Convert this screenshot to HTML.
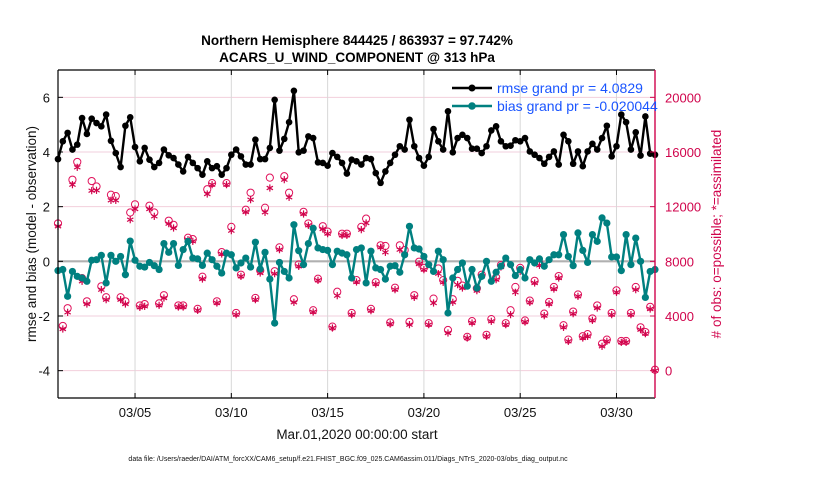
<!DOCTYPE html>
<html><head><meta charset="utf-8"><style>
body{margin:0;background:#fff;}
svg text{font-family:"Liberation Sans",sans-serif;}
</style></head><body>
<svg id="c" width="830" height="470" viewBox="0 0 830 470"></svg>
<script>
const rmse=[3.74,4.39,4.70,4.09,4.27,5.24,4.66,5.22,5.06,4.94,5.37,4.41,3.96,3.45,4.96,5.27,4.18,3.66,4.15,3.72,3.45,3.60,4.09,3.88,3.78,3.54,3.29,3.82,3.60,3.41,3.17,3.66,
3.41,3.48,3.17,3.41,3.90,4.09,3.84,3.54,3.54,4.45,3.74,3.74,4.15,5.91,4.05,4.48,5.09,6.24,3.99,4.05,4.57,4.51,3.62,3.60,3.50,3.96,3.82,3.60,3.21,3.72,3.66,
3.54,3.78,3.74,3.23,2.87,3.29,3.60,3.90,4.21,4.09,5.18,4.21,3.78,3.50,3.82,4.84,4.39,4.09,5.49,3.99,4.51,4.63,4.51,4.12,4.12,3.96,4.21,4.79,4.94,4.39,4.21,
4.23,4.43,4.39,4.51,4.02,3.90,3.78,3.57,3.82,4.02,3.54,4.63,4.39,3.57,4.02,3.48,4.02,4.30,4.09,4.51,4.96,3.84,4.21,5.37,5.09,4.09,4.72,3.87,5.30,3.94,3.90];
const bias=[-0.34,-0.30,-1.28,-0.37,-0.55,-0.61,-0.73,0.04,0.06,0.22,-0.79,0.22,0,0.18,-0.49,0.74,0.04,-0.18,-0.21,-0.04,-0.16,-0.30,0.65,0.33,0.65,-0.15,0.43,0.73,0.12,0.09,-0.15,0.30,
0.06,-0.18,-0.43,0.30,0.24,-0.24,-0.06,0.12,-0.21,0.70,-0.28,0.33,-0.65,-2.26,-0.04,-0.37,-0.61,1.34,0.39,-0.12,0.65,1.21,0.49,0.43,0.40,-0.12,0.37,0.30,0.24,-0.61,0.43,
0.49,-0.79,0.37,-0.24,-0.30,-0.65,-0.18,-0.16,-0.40,0.24,1.28,0.49,0.45,0.18,-0.12,-0.37,0.37,0.06,-1.89,-0.61,-0.30,-0.06,-0.91,-0.30,-0.98,-0.55,0,-0.73,-0.40,-0.18,0.12,
-0.12,-0.52,-0.30,-0.61,0.06,-0.06,0.09,-0.18,0.06,0.24,0.24,0.98,0.18,-0.16,1.04,0.40,-0.04,0.98,0.73,1.59,1.40,0.16,0.16,-0.34,0.98,-0.12,0.85,0,-1.32,-0.37,-0.30];
const assimilated=[10561,3049,4268,13610,14878,6537,4878,13171,13195,5927,5195,12463,12463,5195,4878,11049,11829,4634,4707,11829,11293,4780,5317,10756,10439,4659,4659,9585,9463,4415,6707,12927,
13610,4951,8537,13610,10244,4098,6902,11610,12512,5195,7146,11585,13366,7098,8854,13976,12683,5000,7634,11463,10634,4293,6610,10366,10024,3122,5488,9902,9902,4098,6488,
10317,10805,4390,6341,9024,8659,3415,5927,8854,8488,3366,5366,7805,7390,3366,4951,7098,6463,2756,5000,6293,6049,2390,3488,5854,6902,2512,3610,6659,7585,3366,
4098,5732,7268,3561,5000,6415,7707,4024,4878,5976,6780,3171,2146,4171,5439,2390,2512,3683,4585,1780,2146,4098,5732,2073,2073,4098,5927,3000,2707,4512,0];
const possible=[10700,3200,4500,13900,15200,6700,5000,13800,13400,6100,5300,12800,12700,5300,5000,11500,12100,4700,4800,12000,11500,4850,5450,10900,10600,4700,4700,9650,9550,4450,6800,13200,
13650,5000,8600,13650,10450,4150,6950,11700,12950,5250,7250,11850,14050,7200,8950,14150,12950,5150,7700,11550,10700,4350,6650,10500,10100,3150,5700,9950,9950,4150,6550,
10450,11050,4450,6400,9100,9050,3450,6000,9100,8750,3500,5450,7900,7450,3400,5200,7400,6550,2900,5150,6500,6150,2400,3550,5950,6950,2550,3700,6750,7650,3400,
4350,6050,7450,3600,5050,6500,7800,4100,4950,6050,6850,3250,2200,4250,5500,2450,2600,3750,4700,1900,2200,4150,5800,2100,2100,4150,6050,3100,2750,4600,0];
const leftTicks=[6,4,2,0,-2,-4];
const rightTicks=[20000,16000,12000,8000,4000,0];
const dateTicks=[5,10,15,20,25,30];
const dateLabels=["03/05","03/10","03/15","03/20","03/25","03/30"];

const L=58,R=655,T=70,B=398;
const X=d=>L+(d-1)/31*(R-L);
const Y=v=>T+(7-v)/12*(B-T);
const YR=c=>T+(22000-c)/24000*(B-T);
const dayOf=i=>1+i*0.25;
const svg=document.getElementById('c');
const NS='http://www.w3.org/2000/svg';
function mk(tag,attrs,parent){const e=document.createElementNS(NS,tag);for(const k in attrs)e.setAttribute(k,attrs[k]);(parent||svg).appendChild(e);return e;}
function txt(s,attrs,parent){const e=mk('text',attrs,parent);e.textContent=s;return e;}

// grid
rightTicks.forEach(t=>{const g=mk('line',{x1:L,x2:R,y1:YR(t),y2:YR(t),stroke:'#f2cfdc','stroke-width':1});

});
dateTicks.forEach(d=>{const g=mk('line',{x1:X(d),x2:X(d),y1:T,y2:B,stroke:'#d8d8d8','stroke-width':1});

});
const zl=mk('line',{x1:L,x2:R,y1:Y(0),y2:Y(0),stroke:'#b0b0b0','stroke-width':2.2});



// obs markers
const obsG=mk('g',{});


possible.forEach((c,i)=>{const m=mk('circle',{cx:X(dayOf(i)),cy:YR(c)-1,r:3.6,fill:'none',stroke:'#e0105a','stroke-width':1},obsG);

});
assimilated.forEach((c,i)=>{const x=X(dayOf(i)),y=YR(c);const g=mk('g',{stroke:'#d0044c','stroke-width':1.2},obsG);


const r=3.6;[[0,1],[0.87,0.5],[0.87,-0.5]].forEach(([a,b])=>mk('line',{x1:x-a*r,y1:y-b*r,x2:x+a*r,y2:y+b*r},g));});

function series(vals,color,name,r){
  const g=mk('g',{});
  
  
  mk('polyline',{points:vals.map((v,i)=>X(dayOf(i))+','+Y(v)).join(' '),fill:'none',stroke:color,'stroke-width':2.4,'stroke-linejoin':'round'},g);
  vals.forEach((v,i)=>{const p=mk('circle',{cx:X(dayOf(i)),cy:Y(v),r:r,fill:color},g);
  
  });
}
series(bias,'#008080','bias-series',3.6);
series(rmse,'#000000','rmse-series',3.3);

// axes
const ax=mk('g',{});


mk('line',{x1:L,x2:R,y1:T,y2:T,stroke:'#000','stroke-width':1.2},ax);
mk('line',{x1:L,x2:R,y1:B,y2:B,stroke:'#000','stroke-width':1.2},ax);
mk('line',{x1:L,x2:L,y1:T,y2:B,stroke:'#000','stroke-width':1.2},ax);
mk('line',{x1:R,x2:R,y1:T,y2:B,stroke:'#d0044c','stroke-width':1.4},ax);
leftTicks.forEach(t=>{mk('line',{x1:L,x2:L+5,y1:Y(t),y2:Y(t),stroke:'#000'},ax);
const e=txt(String(t).replace('-','−').replace('−','-'),{x:L-8,y:Y(t)+5,'text-anchor':'end','font-size':13,fill:'#111'},ax);

});
rightTicks.forEach(t=>{mk('line',{x1:R-5,x2:R,y1:YR(t),y2:YR(t),stroke:'#d0044c'},ax);
const e=txt(String(t),{x:R+10,y:YR(t)+5,'font-size':13,fill:'#d0044c'},ax);

});
dateTicks.forEach((d,k)=>{mk('line',{x1:X(d),x2:X(d),y1:T,y2:T+5,stroke:'#000'},ax);mk('line',{x1:X(d),x2:X(d),y1:B-5,y2:B,stroke:'#000'},ax);
const e=txt(dateLabels[k],{x:X(d),y:B+19,'text-anchor':'middle','font-size':13,fill:'#111'},ax);

});
</script>
<svg width="0" height="0"></svg>
<div style="position:absolute;left:0;top:0;width:830px;height:470px;pointer-events:none">
<svg width="830" height="470" style="position:absolute;left:0;top:0">
<text x="357" y="45" text-anchor="middle" font-size="13.5" font-weight="bold" font-family="Liberation Sans, sans-serif">Northern Hemisphere 844425 / 863937 = 97.742%</text>
<text x="357" y="62" text-anchor="middle" font-size="13.5" font-weight="bold" font-family="Liberation Sans, sans-serif">ACARS_U_WIND_COMPONENT @ 313 hPa</text>
<text transform="translate(36,234) rotate(-90)" text-anchor="middle" font-size="13.5" font-family="Liberation Sans, sans-serif" fill="#111">rmse and bias (model - observation)</text>
<text transform="translate(721,234) rotate(-90)" text-anchor="middle" font-size="13.5" font-family="Liberation Sans, sans-serif" fill="#d0044c"># of obs: o=possible; *=assimilated</text>
<text x="357" y="439" text-anchor="middle" font-size="13.5" font-family="Liberation Sans, sans-serif" fill="#111">Mar.01,2020 00:00:00 start</text>
<text x="348" y="461" text-anchor="middle" font-size="7" font-family="Liberation Sans, sans-serif" fill="#111">data file: /Users/raeder/DAI/ATM_forcXX/CAM6_setup/f.e21.FHIST_BGC.f09_025.CAM6assim.011/Diags_NTrS_2020-03/obs_diag_output.nc</text>
<g>
<g>
<line x1="452" y1="88" x2="492" y2="88" stroke="#000" stroke-width="2.4"/><circle cx="472" cy="88" r="3.5" fill="#000"/>
<text x="497" y="93" font-size="14" font-family="Liberation Sans, sans-serif" fill="#1a55ff">rmse grand pr = 4.0829</text></g>
<g>
<line x1="452" y1="106" x2="492" y2="106" stroke="#008080" stroke-width="2.4"/><circle cx="472" cy="106" r="3.8" fill="#008080"/>
<text x="497" y="111" font-size="14" font-family="Liberation Sans, sans-serif" fill="#1a55ff">bias grand pr = -0.020044</text></g>
</g>
</svg></div>
</body></html>
